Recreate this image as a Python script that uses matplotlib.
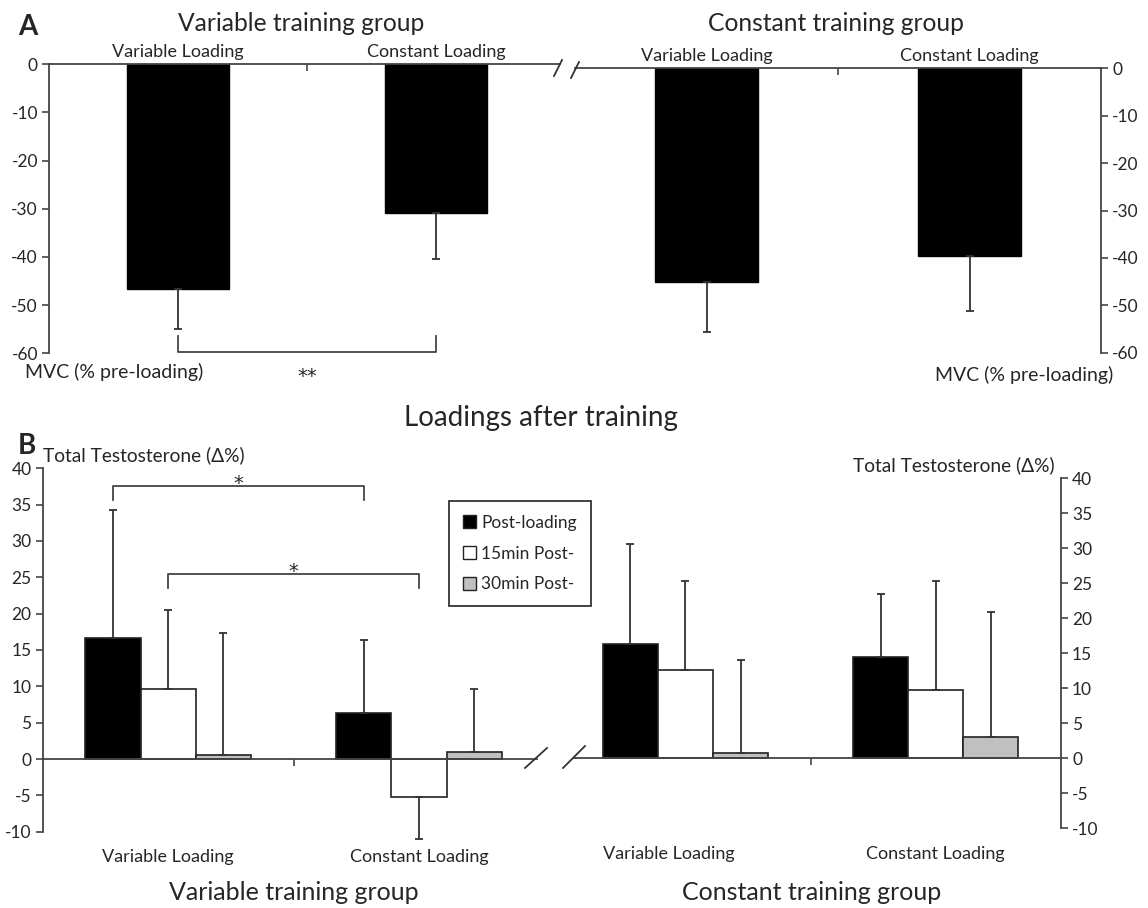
import numpy as np
import matplotlib
matplotlib.use("Agg")
import matplotlib.pyplot as plt
from matplotlib.patches import Patch
from matplotlib.lines import Line2D

plt.rcParams['font.family'] = ['Lato', 'DejaVu Sans']
plt.rcParams['axes.unicode_minus'] = False

W, H = 1148, 908
INK = '#262626'

# ---- data ----
loadings = ['Variable Loading', 'Constant Loading']
groups = ['Variable training group', 'Constant training group']

# panel A: MVC change (% pre-loading), mean and SD per loading
mvc_var_group = [-46.7, -30.9]
mvc_var_group_sd = [8.3, 9.6]
mvc_const_group = [-45.0, -39.5]
mvc_const_group_sd = [10.7, 11.8]

# panel B: total testosterone change (%), rows = time point, cols = loading
times = ['Post-loading', '15min Post-', '30min Post-']
time_colors = ['#000000', '#ffffff', '#c0c0c0']
tt_var_group = [[16.7, 6.3], [9.7, -5.2], [0.5, 0.9]]
tt_var_group_sd = [[17.6, 10.1], [10.8, 5.8], [16.9, 8.8]]
tt_const_group = [[16.3, 14.5], [12.6, 9.8], [0.7, 3.1]]
tt_const_group_sd = [[14.3, 9.0], [12.7, 15.5], [13.3, 17.8]]


def fx(px):
    return px / W


def fy(py):
    return 1 - py / H


def px_axes(fig, x0, x1, ytop, ybot):
    return fig.add_axes([fx(x0), fy(ybot), (x1 - x0) / W, (ybot - ytop) / H])


def one_sided(mean, sd):
    mean = np.asarray(mean, float)
    sd = np.asarray(sd, float)
    return np.vstack([np.where(mean < 0, sd, 0), np.where(mean > 0, sd, 0)])


def draw_err(ax, x, mean, sd):
    eb = ax.errorbar(x, mean, yerr=one_sided(mean, sd), fmt='none', ecolor='#333333',
                     elinewidth=1.3, capsize=3.2, capthick=1.3, zorder=3)
    for art in eb.lines[1] + eb.lines[2]:
        art.set_clip_on(False)


def style_axis(ax, side):
    for s in ax.spines.values():
        s.set_visible(False)
    ax.spines[side].set_visible(True)
    for s in ax.spines.values():
        s.set_color('#444444')
        s.set_linewidth(1.3)
    ax.tick_params(axis='y', direction='out', length=5, width=1.2, color='#444444',
                   labelsize=12.5, labelcolor=INK, pad=3)
    if side == 'right':
        ax.yaxis.tick_right()
    else:
        ax.yaxis.tick_left()


fig = plt.figure(figsize=(W / 100, H / 100), dpi=100)

# ---------------- panel A ----------------
axA = [px_axes(fig, 49, 560, 64.3, 353.3), px_axes(fig, 575, 1101, 68.3, 352.7)]
A_means = [mvc_var_group, mvc_const_group]
A_sds = [mvc_var_group_sd, mvc_const_group_sd]
A_xlim = [(0, 1.98), (0, 2)]
for i, ax in enumerate(axA):
    x = np.arange(len(loadings)) + 0.5
    ax.bar(x, A_means[i], width=0.395, color='black', edgecolor='black', zorder=2)
    draw_err(ax, x, A_means[i], A_sds[i])
    ax.set_xlim(*A_xlim[i])
    ax.set_ylim(-60, 0)
    ax.set_yticks(np.arange(-60, 1, 10))
    style_axis(ax, 'left' if i == 0 else 'right')
    ax.spines['top'].set_visible(True)
    ax.spines['top'].set_color('#444444')
    ax.xaxis.set_ticks_position('top')
    ax.set_xticks([1])
    ax.set_xticklabels([])
    ax.tick_params(axis='x', which='major', direction='in', length=5, width=1.2,
                   color='#444444', top=True, bottom=False)
    ax.set_xticks(x, minor=True)
    ax.set_xticklabels(loadings, minor=True)
    ax.tick_params(axis='x', which='minor', length=0, labeltop=True, labelbottom=False,
                   labelsize=13, labelcolor=INK, pad=3)
    ax.patch.set_alpha(0)

# significance bracket, panel A
axA[0].plot([0.5, 0.5, 1.5, 1.5], [-56.4, -59.7, -59.7, -56.4], color='#444444', lw=1.3,
            clip_on=False)
axA[0].text(1.0, -66.0, '**', ha='center', va='baseline', fontsize=14,
            family='DejaVu Sans', color=INK)

fig.text(fx(18), fy(27), 'A', fontsize=20, fontweight='bold', va='center', color=INK)
fig.text(fx(301), fy(31), groups[0], fontsize=17.7, ha='center', va='baseline', color=INK)
fig.text(fx(836), fy(31), groups[1], fontsize=17.7, ha='center', va='baseline', color=INK)
fig.text(fx(25), fy(372), 'MVC (% pre-loading)', fontsize=14, va='center', color=INK)
fig.text(fx(1113), fy(375), 'MVC (% pre-loading)', fontsize=14, ha='right', va='center',
         color=INK)

# ---------------- panel B ----------------
axB = [px_axes(fig, 42.7, 537, 468.3, 831.7), px_axes(fig, 574, 1061, 478.3, 828.3)]
B_means = [tt_var_group, tt_const_group]
B_sds = [tt_var_group_sd, tt_const_group_sd]
B_xlim = [(0, 1.97), (0.055, 2)]
label_shift = [[0, 0], [-12, 0]]
bw = 0.22
for i, ax in enumerate(axB):
    centers = np.arange(len(loadings)) + 0.5
    for t in range(len(times)):
        xs = centers + (t - 1) * bw
        ax.bar(xs, B_means[i][t], width=bw, color=time_colors[t], edgecolor='#222222',
               linewidth=1.2, zorder=2, label=times[t])
        draw_err(ax, xs, B_means[i][t], B_sds[i][t])
    ax.set_xlim(*B_xlim[i])
    ax.set_ylim(-10, 40)
    ax.set_yticks(np.arange(-10, 41, 5))
    style_axis(ax, 'left' if i == 0 else 'right')
    ax.spines['bottom'].set_visible(True)
    ax.spines['bottom'].set_position(('data', 0))
    ax.spines['bottom'].set_color('#444444')
    ax.spines['bottom'].set_linewidth(1.3)
    ax.set_xticks([1])
    ax.set_xticklabels([])
    ax.tick_params(axis='x', direction='out', length=5, width=1.2, color='#444444')
    for c, lab, dx in zip(centers, loadings, label_shift[i]):
        ax.annotate(lab, xy=(c, 0), xycoords=('data', 'axes fraction'),
                    xytext=(dx, -22), textcoords='offset points', ha='center',
                    va='baseline', fontsize=13, color=INK)
    ax.patch.set_alpha(0)

# significance brackets, panel B (left group)
brackets = [(0.5 - bw, 1.5 - bw, 35.7, 37.6), (0.5, 1.5, 23.5, 25.4)]
for x0, x1, y0, y1 in brackets:
    axB[0].plot([x0, x0, x1, x1], [y0, y1, y1, y0], color='#444444', lw=1.3)
    axB[0].text((x0 + x1) / 2, y1 - 0.4, '*', ha='center', va='baseline', fontsize=14,
                family='DejaVu Sans', color=INK)

handles = [Patch(facecolor=c, edgecolor='#222222', linewidth=1.0) for c in time_colors]
leg = fig.legend(handles, times, loc='upper left', bbox_to_anchor=(fx(449), fy(501)),
                 bbox_transform=fig.transFigure, borderaxespad=0, fancybox=False,
                 handlelength=0.75, handleheight=0.75, handletextpad=0.3,
                 labelspacing=0.85, borderpad=0.8, fontsize=12.5, edgecolor='#222222',
                 framealpha=1)
leg.get_frame().set_linewidth(1.2)
for t in leg.get_texts():
    t.set_color(INK)

fig.text(fx(18), fy(446), 'B', fontsize=20, fontweight='bold', va='center', color=INK)
fig.text(fx(43), fy(455), 'Total Testosterone (Δ%)', fontsize=13.8, va='center', color=INK)
fig.text(fx(1055), fy(465), 'Total Testosterone (Δ%)', fontsize=13.8, ha='right',
         va='center', color=INK)
fig.text(fx(541), fy(418), 'Loadings after training', fontsize=20, ha='center',
         va='center', color=INK)
fig.text(fx(294), fy(900), groups[0], fontsize=18, ha='center', va='baseline', color=INK)
fig.text(fx(812), fy(900), groups[1], fontsize=18, ha='center', va='baseline', color=INK)

# axis break marks
breaks = [((554, 76), (562, 60)), ((571, 78), (579, 62)),
          ((525, 768), (547, 748)), ((563, 768), (585, 746))]
for (xa, ya), (xb, yb) in breaks:
    fig.add_artist(Line2D([fx(xa), fx(xb)], [fy(ya), fy(yb)], color='#333333', lw=1.3))

fig.savefig('out.png', dpi=100)
